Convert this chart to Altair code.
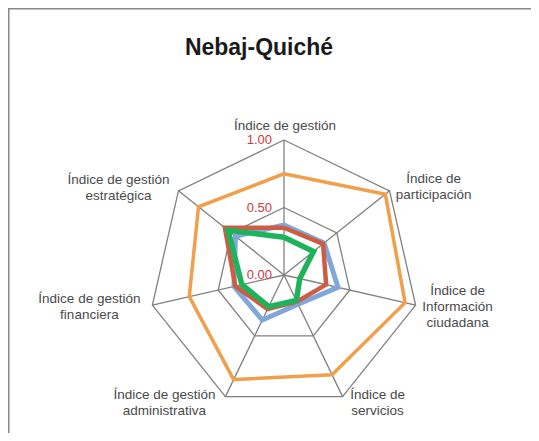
import math
import altair as alt
import pandas as pd

# ---------------- data ----------------
CATEGORIES = [
    "Índice de gestión",
    "Índice de\nparticipación",
    "Índice de\nInformación\nciudadana",
    "Índice de\nservicios",
    "Índice de gestión\nadministrativa",
    "Índice de gestión\nfinanciera",
    "Índice de gestión\nestratégica",
]
SERIES_NAMES = ["Serie 1", "Serie 2", "Serie 3", "Serie 4"]
SERIE_1 = [0.75, 0.96, 0.92, 0.82, 0.86, 0.72, 0.81]   # orange
SERIE_2 = [0.37, 0.38, 0.41, 0.24, 0.37, 0.38, 0.46]   # blue
SERIE_3 = [0.35, 0.37, 0.32, 0.22, 0.28, 0.37, 0.56]   # red
SERIE_4 = [0.28, 0.28, 0.12, 0.21, 0.26, 0.32, 0.53]   # green
TICK_VALUES = [0.0, 0.5, 1.0]
TICK_LABELS = ["0.00", "0.50", "1.00"]
TITLE = "Nebaj-Quiché"

# ---------------- layout / style ----------------
W, H = 523, 425            # view size (chart starts at page 8px margin)
CX, CY = 276, 267          # radar centre inside view (px)
R = 135                    # radius of value 1.0 (px)
LABEL_NUDGE_PX = [(1, -14), (44, -12), (42, -14), (35, -2), (-61, -2), (-63, -6), (-60, -11)]
COLORS = ["#F0A04B", "#7FA7DA", "#CD5C45", "#1DB35B"]
WIDTHS = [3.5, 5.0, 4.5, 5.5]
GRID = "#808080"
N = len(CATEGORIES)

xs = alt.Scale(domain=[-CX / R, (W - CX) / R], nice=False, zero=False)
ys = alt.Scale(domain=[-(H - CY) / R, CY / R], nice=False, zero=False)

ANG = f"datum.idx * 2 * PI / {N}"


def polar(chart, rfield="value"):
    return chart.transform_calculate(
        ang=ANG
    ).transform_calculate(
        px=f"datum.{rfield} * sin(datum.ang)",
        py=f"datum.{rfield} * cos(datum.ang)",
    )


# grid rings
ring_rows = []
for lev in [0.5, 1.0]:
    for k in range(N + 1):
        ring_rows.append({"level": lev, "idx": k % N, "ord": k, "value": lev})
rings = polar(alt.Chart(pd.DataFrame(ring_rows))).mark_line(
    color=GRID, strokeWidth=1.3
).encode(
    x=alt.X("px:Q", scale=xs, axis=None),
    y=alt.Y("py:Q", scale=ys, axis=None),
    detail="level:N",
    order="ord:Q",
)

# spokes
spoke_df = pd.DataFrame({"idx": list(range(N)), "value": [1.0] * N, "zero": [0.0] * N})
spokes = polar(alt.Chart(spoke_df)).mark_rule(color=GRID, strokeWidth=1.3).encode(
    x=alt.X("zero:Q", scale=xs, axis=None),
    y=alt.Y("zero:Q", scale=ys, axis=None),
    x2="px:Q",
    y2="py:Q",
)

# series polygons
series_layers = []
for name, vals, col, sw in zip(SERIES_NAMES, [SERIE_1, SERIE_2, SERIE_3, SERIE_4], COLORS, WIDTHS):
    rows = [{"serie": name, "idx": k % N, "ord": k, "value": vals[k % N]} for k in range(N + 1)]
    series_layers.append(
        polar(alt.Chart(pd.DataFrame(rows))).mark_line(
            color=col, strokeWidth=sw, strokeJoin="miter"
        ).encode(
            x=alt.X("px:Q", scale=xs, axis=None),
            y=alt.Y("py:Q", scale=ys, axis=None),
            order="ord:Q",
        )
    )

# category labels
lab_df = pd.DataFrame({
    "idx": list(range(N)),
    "label": CATEGORIES,
    "value": [1.0] * N,
    "nx": [d[0] / R for d in LABEL_NUDGE_PX],
    "ny": [d[1] / R for d in LABEL_NUDGE_PX],
})
labels = alt.Chart(lab_df).transform_calculate(ang=ANG).transform_calculate(
    lx="sin(datum.ang) + datum.nx",
    ly="cos(datum.ang) - datum.ny",
).mark_text(
    font="Liberation Sans", fontSize=13.5, color="#4a4a4a", align="center",
    baseline="middle", lineBreak="\n", lineHeight=16
).encode(
    x=alt.X("lx:Q", scale=xs, axis=None),
    y=alt.Y("ly:Q", scale=ys, axis=None),
    text="label:N",
)

# radial tick labels
tick_df = pd.DataFrame({"v": TICK_VALUES, "t": TICK_LABELS, "zero": [0.0] * len(TICK_VALUES)})
ticks = alt.Chart(tick_df).mark_text(
    font="Liberation Sans", fontSize=13, color="#D0383C", align="right",
    baseline="middle", dx=-12
).encode(
    x=alt.X("zero:Q", scale=xs, axis=None),
    y=alt.Y("v:Q", scale=ys, axis=None),
    text="t:N",
)

# title
title = alt.Chart(pd.DataFrame({"t": [TITLE]})).mark_text(
    font="Liberation Sans", fontSize=23, fontWeight="bold", color="#1a1a1a",
    align="center", baseline="alphabetic"
).encode(x=alt.value(251), y=alt.value(47), text="t:N")

# frame (left and top edges)
frame_left = alt.Chart(pd.DataFrame({"a": [0]})).mark_rule(color="#888888", strokeWidth=2).encode(
    x=alt.value(0.5), y=alt.value(0), y2=alt.value(H)
)
frame_top = alt.Chart(pd.DataFrame({"a": [0]})).mark_rule(color="#888888", strokeWidth=2).encode(
    x=alt.value(0), x2=alt.value(W), y=alt.value(0.5)
)

chart = alt.layer(
    rings, spokes, *series_layers, ticks, labels, title, frame_left, frame_top
).properties(
    width=W, height=H, padding=0, autosize=alt.AutoSizeParams(type="none")
).configure_view(stroke=None).configure(background="white")

chart.save("out.html", embed_options={"renderer": "svg", "actions": False})
